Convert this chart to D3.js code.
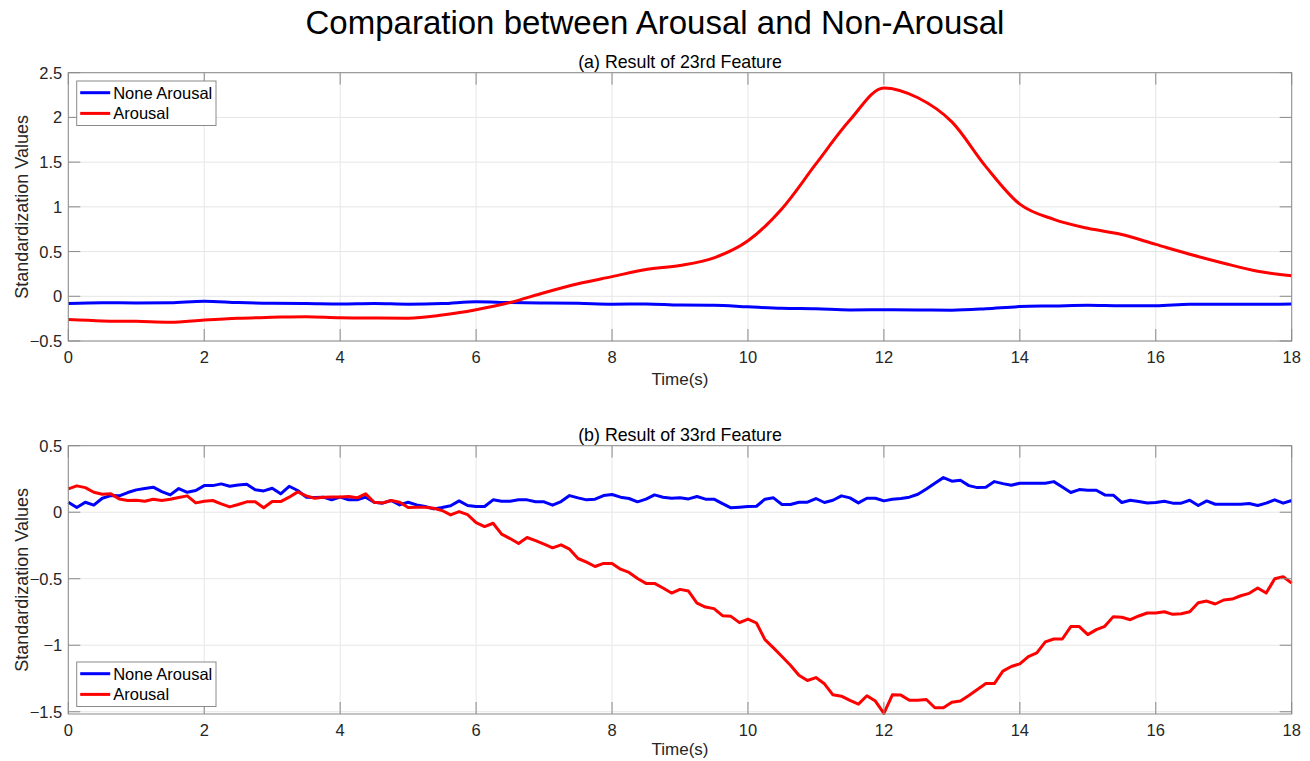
<!DOCTYPE html>
<html>
<head>
<meta charset="utf-8">
<script src="https://cdn.jsdelivr.net/npm/d3@7"></script>
<style>
    body { margin: 0; background: #fff; }
    svg { display: block; font-family: Arial, 'Liberation Sans', Helvetica, sans-serif; }
    .tick-label { fill: #262626; font-size: 16.5px; }
    .axis-label { fill: #262626; font-size: 17px; }
    .y-label { fill: #262626; font-size: 18px; }
    .sub-title { fill: #000; font-size: 17.8px; }
</style>
</head>
<body>
<div id="chart"></div>
<script>
// (a) 23rd feature, sampled every 0.5 s
const timeA = d3.range(0, 18.01, 0.5)
const noneArousalA = [-0.08, -0.072, -0.075, -0.072, -0.055, -0.07, -0.078, -0.08, -0.085, -0.08, -0.088, -0.082,
    -0.06, -0.07, -0.075, -0.078, -0.088, -0.085, -0.098, -0.1, -0.118, -0.135, -0.14, -0.152, -0.15, -0.152,
    -0.155, -0.14, -0.115, -0.108, -0.1, -0.105, -0.105, -0.09, -0.09, -0.09, -0.085]
const arousalA = [-0.26, -0.275, -0.28, -0.29, -0.265, -0.245, -0.235, -0.228, -0.24, -0.243, -0.245, -0.21,
    -0.15, -0.07, 0.04, 0.14, 0.22, 0.3, 0.345, 0.43, 0.62, 0.98, 1.48, 1.97, 2.33, 2.22, 1.95, 1.45, 1.03,
    0.86, 0.76, 0.69, 0.58, 0.47, 0.37, 0.28, 0.23]

// (b) 33rd feature, sampled every 0.125 s
const timeB = d3.range(0, 145).map(i => i * 0.125)
const noneArousalB = [0.075, 0.035, 0.075, 0.053, 0.105, 0.125, 0.123, 0.148, 0.168, 0.178, 0.188, 0.155, 0.13,
    0.178, 0.15, 0.163, 0.2, 0.2, 0.213, 0.195, 0.205, 0.21, 0.168, 0.16, 0.18, 0.138, 0.195, 0.163, 0.113, 0.11,
    0.113, 0.093, 0.113, 0.093, 0.093, 0.113, 0.075, 0.068, 0.088, 0.055, 0.075, 0.055, 0.043, 0.025, 0.035,
    0.048, 0.085, 0.05, 0.043,
    0.043, 0.093, 0.083, 0.083, 0.093, 0.093, 0.078, 0.078, 0.053, 0.08, 0.125, 0.108, 0.093, 0.098, 0.125,
    0.133, 0.113, 0.103, 0.078, 0.098, 0.13, 0.113, 0.105, 0.108, 0.1, 0.118, 0.098, 0.098, 0.065, 0.033, 0.038,
    0.043, 0.045, 0.098, 0.108, 0.058, 0.058, 0.075, 0.075, 0.103, 0.073, 0.09, 0.123, 0.108, 0.07, 0.105,
    0.105, 0.085,
    0.098, 0.103, 0.113, 0.135, 0.175, 0.218, 0.26, 0.233, 0.24, 0.2, 0.185, 0.188, 0.23, 0.215, 0.203, 0.218,
    0.218, 0.218, 0.218, 0.23, 0.19, 0.148, 0.17, 0.165, 0.165, 0.13, 0.128, 0.073, 0.09, 0.08, 0.07, 0.073,
    0.083, 0.068, 0.068, 0.09, 0.05, 0.085, 0.06, 0.06, 0.06, 0.06, 0.065, 0.05, 0.068, 0.093, 0.068, 0.088]
const arousalB = [0.175, 0.198, 0.185, 0.15, 0.135, 0.138, 0.1, 0.088, 0.09, 0.083, 0.098, 0.088, 0.098, 0.11,
    0.123, 0.07, 0.083, 0.088, 0.063, 0.04, 0.058, 0.078, 0.078, 0.033, 0.08, 0.08, 0.113, 0.153, 0.123, 0.105,
    0.113, 0.115, 0.115, 0.118, 0.108, 0.138, 0.075, 0.07, 0.088, 0.075, 0.035, 0.038, 0.038, 0.03, 0.013,
    -0.02, 0.005, -0.018, -0.078,
    -0.108, -0.083, -0.165, -0.198, -0.235, -0.19, -0.213, -0.24, -0.268, -0.245, -0.278, -0.348, -0.375,
    -0.408, -0.385, -0.385, -0.428, -0.453, -0.498, -0.535, -0.535, -0.57, -0.608, -0.58, -0.593, -0.683,
    -0.713, -0.725, -0.778, -0.783, -0.83, -0.803, -0.833, -0.958, -1.02, -1.085, -1.15, -1.225, -1.265,
    -1.243, -1.29, -1.373, -1.383, -1.415, -1.443, -1.38, -1.42, -1.513,
    -1.373, -1.375, -1.413, -1.413, -1.408, -1.47, -1.47, -1.428, -1.42, -1.378, -1.333, -1.288, -1.288,
    -1.195, -1.16, -1.14, -1.085, -1.058, -0.975, -0.953, -0.953, -0.86, -0.86, -0.92, -0.883, -0.858,
    -0.785, -0.79, -0.808, -0.78, -0.758, -0.758, -0.748, -0.768, -0.763, -0.748, -0.68, -0.668, -0.69,
    -0.66, -0.653, -0.628, -0.61, -0.57, -0.608, -0.5, -0.485, -0.533]

const xTicks = [0, 2, 4, 6, 8, 10, 12, 14, 16, 18]
const yTicksA = [-0.5, 0, 0.5, 1, 1.5, 2, 2.5]
const yTicksB = [-1.5, -1, -0.5, 0, 0.5]
const seriesNames = ['None Arousal', 'Arousal']
const seriesColors = ['#0000ff', '#ff0000']

const width = 1310
const height = 761
const fmt = d => String(d).replace('-', '\u2212')

const svg = d3.select('#chart')
    .append('svg')
    .attr('width', width)
    .attr('height', height)

svg.append('rect')
    .attr('width', width)
    .attr('height', height)
    .attr('fill', '#fff')

svg.append('text')
    .attr('x', width / 2)
    .attr('y', 34)
    .attr('text-anchor', 'middle')
    .attr('font-size', '33px')
    .attr('fill', '#000')
    .text('Comparation between Arousal and Non-Arousal')

function drawPanel(opts) {
    const { top, bottom, yDomain, yTicks, title, time, series, curve, legendTop, xLabelGap } = opts
    const left = 68.3
    const right = 1291.7

    const x = d3.scaleLinear().domain([0, 18]).range([left, right])
    const y = d3.scaleLinear().domain(yDomain).range([bottom, top])

    const g = svg.append('g')

    // grid
    g.selectAll('.gx')
        .data(xTicks)
        .enter()
        .append('line')
        .attr('x1', d => x(d)).attr('x2', d => x(d))
        .attr('y1', top).attr('y2', bottom)
        .attr('stroke', '#e6e6e6')
    g.selectAll('.gy')
        .data(yTicks)
        .enter()
        .append('line')
        .attr('x1', left).attr('x2', right)
        .attr('y1', d => y(d)).attr('y2', d => y(d))
        .attr('stroke', '#e6e6e6')

    // lines
    const line = d3.line()
        .x((d, i) => x(time[i]))
        .y(d => y(d))
        .curve(curve)

    series.forEach((s, i) => {
        g.append('path')
            .datum(s)
            .attr('fill', 'none')
            .attr('stroke', seriesColors[i])
            .attr('stroke-width', 3)
            .attr('stroke-linejoin', 'round')
            .attr('d', line)
    })

    // box + inward ticks on all sides
    g.append('rect')
        .attr('x', left).attr('y', top)
        .attr('width', right - left).attr('height', bottom - top)
        .attr('fill', 'none')
        .attr('stroke', '#8a8a8a')
        .attr('stroke-width', 1)

    const tl = 12
    xTicks.forEach(t => {
        g.append('line').attr('x1', x(t)).attr('x2', x(t)).attr('y1', bottom).attr('y2', bottom - tl)
            .attr('stroke', '#8a8a8a')
        g.append('line').attr('x1', x(t)).attr('x2', x(t)).attr('y1', top).attr('y2', top + tl)
            .attr('stroke', '#8a8a8a')
    })
    yTicks.forEach(t => {
        g.append('line').attr('x1', left).attr('x2', left + tl).attr('y1', y(t)).attr('y2', y(t))
            .attr('stroke', '#8a8a8a')
        g.append('line').attr('x1', right).attr('x2', right - tl).attr('y1', y(t)).attr('y2', y(t))
            .attr('stroke', '#8a8a8a')
    })

    // tick labels
    g.selectAll('.xl')
        .data(xTicks)
        .enter()
        .append('text')
        .attr('class', 'tick-label')
        .attr('x', d => x(d))
        .attr('y', bottom + 22)
        .attr('text-anchor', 'middle')
        .text(d => d)
    g.selectAll('.yl')
        .data(yTicks)
        .enter()
        .append('text')
        .attr('class', 'tick-label')
        .attr('x', left - 6)
        .attr('y', d => y(d))
        .attr('dy', '0.36em')
        .attr('text-anchor', 'end')
        .text(fmt)

    g.append('text')
        .attr('class', 'axis-label')
        .attr('x', (left + right) / 2)
        .attr('y', bottom + xLabelGap)
        .attr('text-anchor', 'middle')
        .text('Time(s)')

    g.append('text')
        .attr('class', 'y-label')
        .attr('transform', `translate(28,${(top + bottom) / 2}) rotate(-90)`)
        .attr('text-anchor', 'middle')
        .text('Standardization Values')

    g.append('text')
        .attr('class', 'sub-title')
        .attr('x', (left + right) / 2)
        .attr('y', top - 5)
        .attr('text-anchor', 'middle')
        .text(title)

    // legend
    const lg = g.append('g').attr('transform', `translate(76.7,${legendTop})`)
    lg.append('rect')
        .attr('width', 139.3).attr('height', 44.5)
        .attr('fill', '#fff')
        .attr('stroke', '#8a8a8a')
    seriesNames.forEach((name, i) => {
        const ly = 11.7 + i * 20.7
        lg.append('line')
            .attr('x1', 3.5).attr('x2', 33.5)
            .attr('y1', ly).attr('y2', ly)
            .attr('stroke', seriesColors[i])
            .attr('stroke-width', 3)
        lg.append('text')
            .attr('x', 36.5)
            .attr('y', ly)
            .attr('dy', '0.36em')
            .attr('font-size', '16.5px')
            .attr('fill', '#000')
            .text(name)
    })
}

drawPanel({
    top: 72.7, bottom: 341, yDomain: [-0.5, 2.5], yTicks: yTicksA,
    title: '(a) Result of 23rd Feature', time: timeA,
    series: [noneArousalA, arousalA], curve: d3.curveMonotoneX, legendTop: 81, xLabelGap: 44
})

drawPanel({
    top: 445.7, bottom: 714, yDomain: [-1.517, 0.5], yTicks: yTicksB,
    title: '(b) Result of 33rd Feature', time: timeB,
    series: [noneArousalB, arousalB], curve: d3.curveLinear, legendTop: 662, xLabelGap: 41
})
</script>
</body>
</html>
